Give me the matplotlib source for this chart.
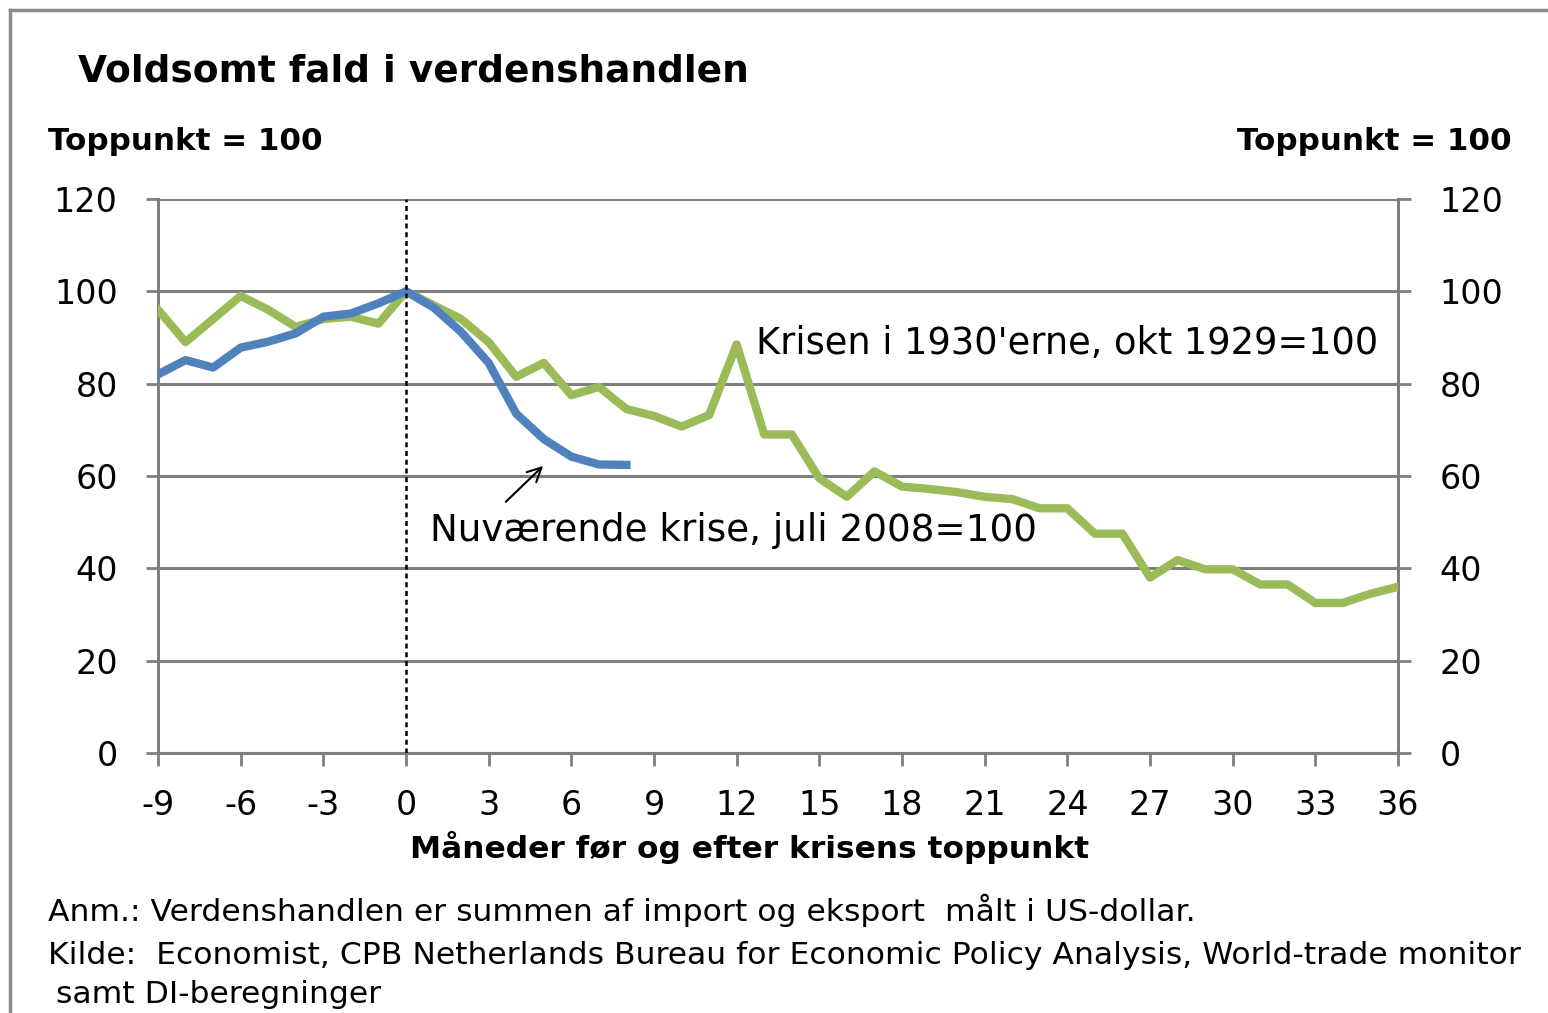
import matplotlib.pyplot as plt
import numpy as np

plt.rcParams.update({"font.family": ["DejaVu Sans"], "font.size": 24})

# data
months_1929 = list(range(-9, 37))
trade_1929 = [96, 89, 94, 99, 96, 92.3, 94, 94.5, 93, 100,
              97, 94, 89, 81.5, 84.5, 77.5, 79.3, 74.5, 73, 70.7,
              73.2, 88.5, 69, 69, 59.5, 55.5, 61, 57.7, 57.2, 56.5,
              55.5, 55, 53, 53, 47.5, 47.5, 38, 41.8, 39.8, 39.8,
              36.5, 36.5, 32.5, 32.5, 34.5, 36]
months_2008 = list(range(-9, 9))
trade_2008 = [82, 85.1, 83.5, 87.8, 89.1, 90.9, 94.5, 95.2, 97.4, 100,
              96.5, 91.2, 84.5, 73.5, 68, 64.2, 62.5, 62.4]

xticks = list(range(-9, 37, 3))
yticks = list(range(0, 121, 20))

W, H = 1548, 1013
fig = plt.figure(figsize=(W / 100, H / 100), dpi=100)

def fx(px):
    return px / W

def fy(py):
    return 1 - py / H

ax = fig.add_axes([fx(158), fy(753), fx(1398) - fx(158), fy(199) - fy(753)])
grid_c = '#7f7f7f'

ax.plot(months_1929, trade_1929, color='#9BBB59', lw=6, zorder=3)
ax.plot(months_2008, trade_2008, color='#4F81BD', lw=6, zorder=4)
ax.axvline(0, color='black', lw=1.8, ls=(0, (2, 1.5)), zorder=5)

ax.set_xlim(-9, 36)
ax.set_ylim(0, 120)
ax.set_xticks(xticks)
ax.set_xticklabels([str(t) for t in xticks])
ax.set_yticks(yticks)
ax.grid(axis='y', color=grid_c, lw=2.2)
ax.tick_params(axis='both', length=9, width=2, color=grid_c, labelsize=24)
ax.tick_params(axis='y', pad=20)
ax.tick_params(axis='x', pad=17)
for s in ['left', 'right', 'bottom']:
    ax.spines[s].set_color(grid_c)
    ax.spines[s].set_linewidth(2.2)
ax.spines['top'].set_visible(False)

ax2 = ax.twinx()
ax2.set_ylim(0, 120)
ax2.set_yticks(yticks)
ax2.tick_params(axis='y', length=9, width=2, color=grid_c, pad=21, labelsize=24)
for s in ['left', 'right', 'bottom', 'top']:
    ax2.spines[s].set_visible(False)

ax.text(12.7, 88.8, "Krisen i 1930'erne, okt 1929=100", fontsize=26.5, va='center', ha='left')
ax.text(0.87, 48.3, "Nuværende krise, juli 2008=100", fontsize=26.8, va='center', ha='left')
ax.annotate('', xy=(5.05, 62.6), xytext=(3.55, 54),
            arrowprops=dict(arrowstyle='->', color='black', lw=1.5, mutation_scale=25))

fig.text(fx(750), fy(847), 'Måneder før og efter krisens toppunkt', fontsize=22.5,
         fontweight='bold', va='center', ha='center')

fig.text(fx(78), fy(82), 'Voldsomt fald i verdenshandlen', fontsize=27, fontweight='bold', va='baseline')
fig.text(fx(48), fy(150), 'Toppunkt = 100', fontsize=22.3, fontweight='bold', va='baseline')
fig.text(fx(1512), fy(150), 'Toppunkt = 100', fontsize=22.3, fontweight='bold', va='baseline', ha='right')

fig.text(fx(48), fy(921), 'Anm.: Verdenshandlen er summen af import og eksport  målt i US-dollar.',
         fontsize=22.6, va='baseline')
fig.text(fx(48), fy(964), 'Kilde:  Economist, CPB Netherlands Bureau for Economic Policy Analysis, World-trade monitor',
         fontsize=22.6, va='baseline')
fig.text(fx(56), fy(1003), 'samt DI-beregninger', fontsize=22.6, va='baseline')

# outer frame lines
fig.add_artist(plt.Line2D([fx(10), fx(10)], [fy(10), 0], color='#8c8c8c', lw=2.5))
fig.add_artist(plt.Line2D([fx(10), 1], [fy(10), fy(10)], color='#8c8c8c', lw=2.5))

fig.savefig('out.png', dpi=100)
